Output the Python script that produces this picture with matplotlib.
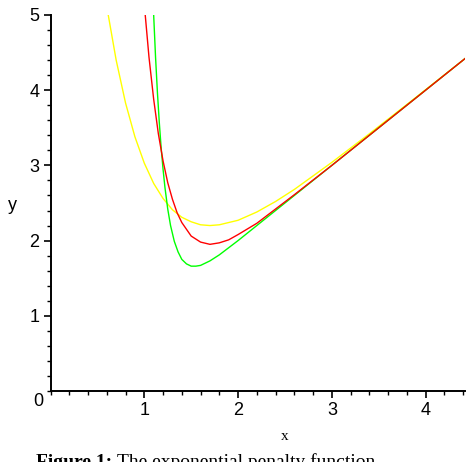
import matplotlib
matplotlib.use('Agg')

import numpy as np
import matplotlib.pyplot as plt
from matplotlib.ticker import MultipleLocator

# -------------------------
# Data
# -------------------------
yellow_x = [0.61, 0.70, 0.80, 0.90, 1.00, 1.10, 1.20, 1.30, 1.40, 1.50, 1.60,
            1.70, 1.80, 1.90, 2.00, 2.20, 2.40, 2.60, 2.80, 3.00, 3.40, 3.80,
            4.42]
yellow_y = [5.04, 4.40, 3.83, 3.38, 3.03, 2.76, 2.56, 2.41, 2.31, 2.25, 2.21,
            2.20, 2.21, 2.24, 2.27, 2.38, 2.52, 2.68, 2.86, 3.04, 3.42, 3.81,
            4.42]

red_x = [1.00, 1.05, 1.10, 1.15, 1.20, 1.25, 1.30, 1.35, 1.40, 1.50, 1.60,
         1.70, 1.80, 1.90, 2.00, 2.20, 2.40, 2.60, 3.00, 4.42]
red_y = [5.14, 4.44, 3.88, 3.42, 3.06, 2.77, 2.55, 2.37, 2.24, 2.06, 1.98,
         1.95, 1.97, 2.01, 2.08, 2.23, 2.42, 2.61, 3.00, 4.42]

green_x = [1.09, 1.10, 1.12, 1.14, 1.16, 1.18, 1.20, 1.22, 1.25, 1.28, 1.32,
           1.36, 1.40, 1.45, 1.50, 1.55, 1.60, 1.70, 1.80, 2.00, 4.42]
green_y = [5.31, 5.00, 4.44, 3.97, 3.57, 3.23, 2.95, 2.71, 2.42, 2.20, 1.99,
           1.85, 1.75, 1.69, 1.66, 1.66, 1.67, 1.73, 1.81, 2.00, 4.42]

xticks = [1, 2, 3, 4]
yticks = [1, 2, 3, 4, 5]

# -------------------------
# Figure
# -------------------------
fig = plt.figure(figsize=(4.69, 4.62), dpi=100)
ax = fig.add_axes([0.1077, 0.1537, 0.8838, 0.8139])

ax.plot(yellow_x, yellow_y, color='#ffff00', lw=1.0)
ax.plot(green_x, green_y, color='#00ff00', lw=1.0)
ax.plot(red_x, red_y, color='#ff0000', lw=1.0)

ax.set_xlim(0, 4.42)
ax.set_ylim(0, 5)

for s in ['top', 'right']:
    ax.spines[s].set_visible(False)
for s in ['left', 'bottom']:
    ax.spines[s].set_linewidth(1.4)

ax.set_xticks(xticks)
ax.set_yticks(yticks)
ax.xaxis.set_minor_locator(MultipleLocator(0.2))
ax.yaxis.set_minor_locator(MultipleLocator(0.2))
ax.tick_params(which='major', direction='out', length=5, width=1.2,
               labelsize=13, pad=3)
ax.tick_params(which='minor', direction='out', length=3, width=1.0)
for lab in ax.get_xticklabels() + ax.get_yticklabels():
    lab.set_family('Liberation Sans')

# origin label sits in the corner, as in the original
fig.text(38 / 469, 1 - 401 / 462, '0', ha='center', va='center',
         fontsize=13, family='Liberation Sans')

fig.text(285 / 469, 1 - 437 / 462, 'x', ha='center', va='center',
         fontsize=11, family='Liberation Serif')
fig.text(12 / 469, 1 - 206 / 462, 'y', ha='center', va='center',
         fontsize=13, family='Liberation Sans')

# caption, cut off at the bottom edge like the original
cap_y = 1 - 467 / 462
bold = fig.text(36 / 469, cap_y, 'Figure 1:', ha='left', va='baseline',
                fontsize=14, family='Liberation Serif', weight='bold')
fig.canvas.draw()
bb = bold.get_window_extent()
fig.text((bb.x1 + 5) / 469, cap_y, 'The exponential penalty function',
         ha='left', va='baseline', fontsize=14, family='Liberation Serif')

plt.savefig('out.png', dpi=100)
plt.close()
